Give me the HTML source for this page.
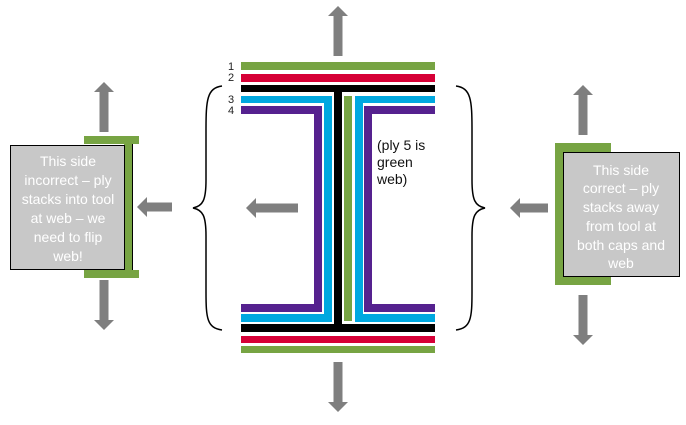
<!DOCTYPE html>
<html><head><meta charset="utf-8"><style>
body{margin:0;background:#fff;width:686px;height:420px;overflow:hidden}
</style></head><body>
<svg width="686" height="420" viewBox="0 0 686 420" xmlns="http://www.w3.org/2000/svg" font-family="Liberation Sans, sans-serif">
<defs>
<path id="up" d="M0,0 L10,10 L4.5,10 L4.5,50 L-4.5,50 L-4.5,10 L-10,10 Z" fill="#7f7f7f"/>
</defs>
<!-- center arrows -->
<use href="#up" transform="translate(338,6)"/>
<use href="#up" transform="translate(338,412) scale(1,-1)"/>
<path d="M0,0 L10,-10 L10,-4.5 L52,-4.5 L52,4.5 L10,4.5 L10,10 Z" fill="#7f7f7f" transform="translate(246,208)"/>
<!-- I-beam -->
<g>
<rect x="241" y="62" width="194" height="8" fill="#77a443"/>
<rect x="241" y="74" width="194" height="8" fill="#d60036"/>
<rect x="241" y="85" width="194" height="7" fill="#000"/>
<rect x="334" y="85" width="8" height="247" fill="#000"/>
<rect x="241" y="324" width="194" height="8" fill="#000"/>
<rect x="241" y="336" width="194" height="7" fill="#d60036"/>
<rect x="241" y="346" width="194" height="7" fill="#77a443"/>
<!-- blue -->
<path d="M241,96 H332 V322 H241 V314 H324 V103 H241 Z" fill="#00a8e0"/>
<path d="M435,96 H355 V322 H435 V314 H363 V103 H435 Z" fill="#00a8e0"/>
<!-- purple -->
<path d="M241,106 H322 V312 H241 V304 H314 V114 H241 Z" fill="#55218f"/>
<path d="M435,106 H364 V312 H435 V304 H372 V114 H435 Z" fill="#55218f"/>
<!-- green web -->
<rect x="344" y="96" width="8" height="225" fill="#77a443"/>
</g>
<g font-size="11" fill="#222">
<text x="228" y="70">1</text><text x="228" y="81">2</text>
<text x="228" y="103">3</text><text x="228" y="114">4</text>
</g>
<text font-size="14" fill="#111"><tspan x="377" y="150">(ply 5 is</tspan><tspan x="377" y="167">green</tspan><tspan x="377" y="184">web)</tspan></text>
<!-- braces -->
<path d="M222,86 C207,88 206,100 206,130 L206,180 C206,200 203,206 193,208 C203,210 206,216 206,236 L206,292 C206,318 207,328 222,330" fill="none" stroke="#000" stroke-width="1.5"/>
<path d="M456,86 C471,88 472,100 472,130 L472,180 C472,200 475,206 485,208 C475,210 472,216 472,236 L472,292 C472,318 471,328 456,330" fill="none" stroke="#000" stroke-width="1.5"/>
<!-- left side -->
<use href="#up" transform="translate(104,82)"/>
<use href="#up" transform="translate(104,330) scale(1,-1)"/>
<path d="M0,0 L10,-10 L10,-4.5 L35,-4.5 L35,4.5 L10,4.5 L10,10 Z" fill="#7f7f7f" transform="translate(137,207)"/>
<rect x="84" y="136" width="55" height="8" fill="#77a443"/>
<rect x="84" y="270" width="55" height="8" fill="#77a443"/>
<rect x="124" y="140" width="8" height="134" fill="#77a443"/>
<line x1="132.5" y1="144" x2="132.5" y2="270" stroke="#000" stroke-width="1"/>
<rect x="10.5" y="145.5" width="114" height="124" fill="#c8c8c8" stroke="#000" stroke-width="1"/>
<text font-size="14" fill="#fff" text-anchor="middle"><tspan x="68" y="166">This side</tspan><tspan x="68" y="185">incorrect – ply</tspan><tspan x="68" y="204">stacks into tool</tspan><tspan x="68" y="223">at web – we</tspan><tspan x="68" y="242">need to flip</tspan><tspan x="68" y="261">web!</tspan></text>
<!-- right side -->
<use href="#up" transform="translate(583,85)"/>
<use href="#up" transform="translate(583,345) scale(1,-1)"/>
<path d="M0,0 L10,-10 L10,-4.5 L38,-4.5 L38,4.5 L10,4.5 L10,10 Z" fill="#7f7f7f" transform="translate(510,208)"/>
<rect x="555" y="143" width="56" height="142" fill="#77a443"/>
<rect x="563.5" y="152.5" width="116" height="124" fill="#c8c8c8" stroke="#000" stroke-width="1"/>
<text font-size="14" fill="#fff" text-anchor="middle"><tspan x="621" y="175">This side</tspan><tspan x="621" y="193">correct – ply</tspan><tspan x="621" y="212">stacks away</tspan><tspan x="621" y="231">from tool at</tspan><tspan x="621" y="250">both caps and</tspan><tspan x="621" y="268">web</tspan></text>
</svg>
</body></html>
